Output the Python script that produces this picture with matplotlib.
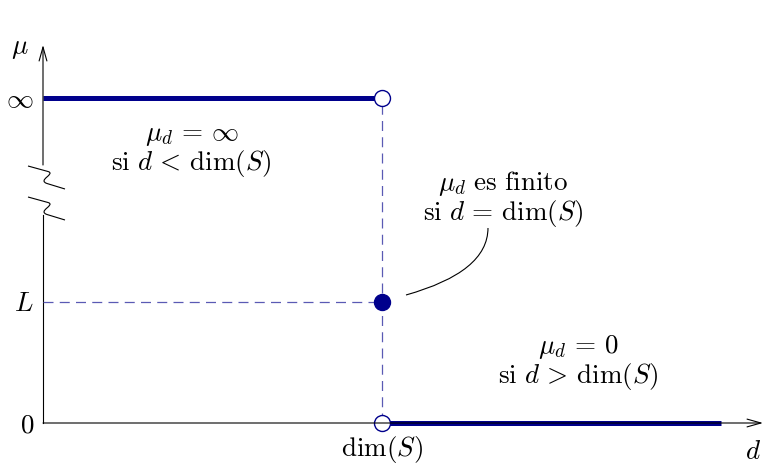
import numpy as np
import matplotlib
matplotlib.use("Agg")
import matplotlib.pyplot as plt
from matplotlib.path import Path
from matplotlib.patches import PathPatch

plt.rcParams['mathtext.fontset'] = 'cm'
plt.rcParams['font.family'] = 'serif'
plt.rcParams['font.serif'] = ['DejaVu Serif']

# levels on the mu axis (L = 1) and the critical dimension (dim(S) = 1)
dim_s = 1.0
level_inf = 2.686
level_L = 1.0
level_zero = 0.0
d_max = 2.0

# piecewise measure: infinite below dim(S), zero above
inf_x = [0.0, dim_s]
inf_y = [level_inf, level_inf]
zero_x = [dim_s, d_max]
zero_y = [level_zero, level_zero]

tick_vals = [level_inf, level_L, level_zero]
tick_labels = [r'$\infty$', r'$L$', r'$0$']

navy = '#00008c'
light = '#5a5ab4'

# pixel scale of one unit along each axis
sx, sy = 339.0, 121.0


def px(x):
    return (x - 43) / sx


def py(y):
    return (423 - y) / sy


fig = plt.figure(figsize=(7.64, 4.65), dpi=100)
ax = fig.add_axes([0, 0, 1, 1])
ax.set_xlim(px(0), px(764))
ax.set_ylim(py(465), py(0))
ax.axis('off')

# axes with arrow heads; y axis interrupted by a break
ax.plot([0, 0], [0, py(215)], color='k', lw=0.8)
ax.annotate('', xy=(0, py(45)), xytext=(0, py(165)),
            arrowprops=dict(arrowstyle='->,head_length=1.0,head_width=0.28',
                            color='k', lw=0.8, shrinkA=0, shrinkB=0))
ax.annotate('', xy=(px(763), 0), xytext=(0, 0),
            arrowprops=dict(arrowstyle='->,head_length=1.0,head_width=0.28',
                            color='k', lw=0.8, shrinkA=0, shrinkB=0))


def axis_break(y0):
    # wiggly break mark crossing the y axis, offsets in pixels
    pts = [(-15, 0), (5, 5.5), (13, 8), (-6, 14), (4, 17.5), (22, 23)]
    codes = [Path.MOVETO, Path.LINETO, Path.CURVE4, Path.CURVE4, Path.CURVE4,
             Path.LINETO]
    verts = [(dx / sx, y0 - dy / sy) for dx, dy in pts]
    ax.add_patch(PathPatch(Path(verts, codes), fill=False, color='k', lw=0.8))


axis_break(py(166))
axis_break(py(197))

# dashed guides to the critical point
ax.plot([dim_s, dim_s], [level_zero, level_inf], color=light, lw=0.9,
        ls=(0, (8, 5)))
ax.plot([0, dim_s], [level_L, level_L], color=light, lw=0.9, ls=(0, (8, 5)))

ax.plot(inf_x, inf_y, color=navy, lw=3.6, solid_capstyle='butt')
ax.plot(zero_x, zero_y, color=navy, lw=3.6, solid_capstyle='butt')

ax.plot([dim_s, dim_s], [level_inf, level_zero], 'o', ms=11.5,
        mfc='white', mec=navy, mew=1.0)
ax.plot([dim_s], [level_L], 'o', ms=11.5, mfc=navy, mec=navy, mew=1.0)

fs = 19.5
ax.text(px(34), level_inf - 2 / sy, tick_labels[0], ha='right', va='center',
        fontsize=fs)
ax.text(px(34), level_L - 9 / sy, tick_labels[1], ha='right', va='baseline',
        fontsize=fs)
ax.text(px(34), level_zero - 9 / sy, tick_labels[2], ha='right',
        va='baseline', fontsize=fs)
ax.text(px(20), py(53), r'$\mu$', ha='center', va='baseline', fontsize=fs)
ax.text(dim_s, py(456), r'$\dim(S)$', ha='center', va='baseline', fontsize=fs)
ax.text(px(753), py(459), r'$d$', ha='center', va='baseline', fontsize=fs)

# region annotations, two lines each (centre x, baseline of the last line)
notes = [
    (191.5, 170, r'$\mu_d \,=\, \infty$' + '\n' + r'$\mathrm{si}\ d \,<\, \dim(S)$'),
    (503, 220, r'$\mu_d\ \mathrm{es\ finito}$' + '\n' + r'$\mathrm{si}\ d \,=\, \dim(S)$'),
    (578, 383, r'$\mu_d \,=\, 0$' + '\n' + r'$\mathrm{si}\ d \,>\, \dim(S)$'),
]
for cx, base, lab in notes:
    ax.text(px(cx), py(base), lab, ha='center', va='baseline',
            multialignment='center', linespacing=1.0, fontsize=fs)

# leader from the label to the critical point
p0 = (px(406), py(295))
pc = (px(488), py(272))
p1 = (px(488), py(228))
ax.add_patch(PathPatch(Path([p0, pc, p1], [Path.MOVETO, Path.CURVE3, Path.CURVE3]),
                       fill=False, color='k', lw=0.8))

fig.savefig('out.png', dpi=100)
